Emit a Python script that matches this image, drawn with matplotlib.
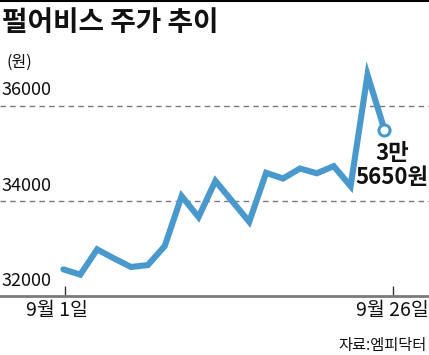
import matplotlib.pyplot as plt
from matplotlib.lines import Line2D
from matplotlib.transforms import ScaledTranslation

# closing prices, 9/1 .. 9/25 (trading days)
days = list(range(20))
prices = [32560, 32450, 32980, 32790, 32610, 32650, 33050, 34100, 33660, 34420,
          33990, 33560, 34590, 34470, 34680, 34580, 34730, 34310, 36650, 35500]

x_ticks = [0.1, 19.5]
x_labels = ["9월 1일", "9월 26일"]
y_levels = [32000, 34000, 36000]
y_labels = ["32000", "34000", "36000"]

title = "펄어비스 주가 추이"
unit = "(원)"
last_note = "3만\n5650원"
source = "자료:엠피닥터"

KR = ["Liberation Sans Narrow", "Noto Sans CJK KR", "DejaVu Sans"]
plt.rcParams["font.family"] = KR

line_color = "#4a99cc"
grey = "#7a7a7a"

fig = plt.figure(figsize=(4.29, 3.55), dpi=100)
ax = fig.add_axes([0, 59 / 355, 1, 236 / 355])

ax.plot(days, prices, color=line_color, lw=4.4, solid_joinstyle="miter",
        solid_capstyle="round", zorder=3)
ax.plot(days[-1], prices[-1], "o", ms=8, mfc="white", mec=line_color, mew=2.2, zorder=4)

ax.set_xlim(-3.75, 21.64)
ax.set_ylim(32000, 36962)

# dashed guides (the 32000 one is the axis itself)
for lv in y_levels[1:]:
    ax.axhline(lv, color=grey, lw=1, ls=(0, (4, 3)), zorder=1)

for lv, lab in zip(y_levels, y_labels):
    ax.annotate(lab, xy=(0.004, lv), xycoords=ax.get_yaxis_transform(),
                xytext=(0, 11), textcoords="offset points",
                ha="left", va="center", fontsize=13, color="#111111")

for s in ["top", "left", "right"]:
    ax.spines[s].set_visible(False)
ax.spines["bottom"].set_color(grey)
ax.spines["bottom"].set_linewidth(2)

ax.set_yticks([])
ax.set_xticks(x_ticks)
ax.set_xticklabels(x_labels, fontsize=14, color="#111111")
ax.tick_params(axis="x", direction="in", length=7, width=1, color="#333333", pad=3)
first = ax.get_xticklabels()[0]
first.set_transform(first.get_transform() + ScaledTranslation(-0.08, 0, fig.dpi_scale_trans))

ax.text(days[-1] + 0.45, 34750, last_note, ha="center", va="center",
        fontsize=16, fontweight="bold", linespacing=1.05, color="#111111")

fig.text(0.004, 1 - 23 / 355, title, fontsize=20, fontweight="bold",
         ha="left", va="center", color="#111111")
fig.text(0.015, 1 - 62.5 / 355, unit, fontsize=11.5, ha="left", va="center",
         color="#111111")
fig.text(0.995, 1 - 345.5 / 355, source, fontsize=11, ha="right", va="center",
         color="#111111")

fig.add_artist(Line2D([0, 1], [0.998, 0.998], color="black", lw=1.5,
                      transform=fig.transFigure))

fig.savefig("out.png", dpi=100)
